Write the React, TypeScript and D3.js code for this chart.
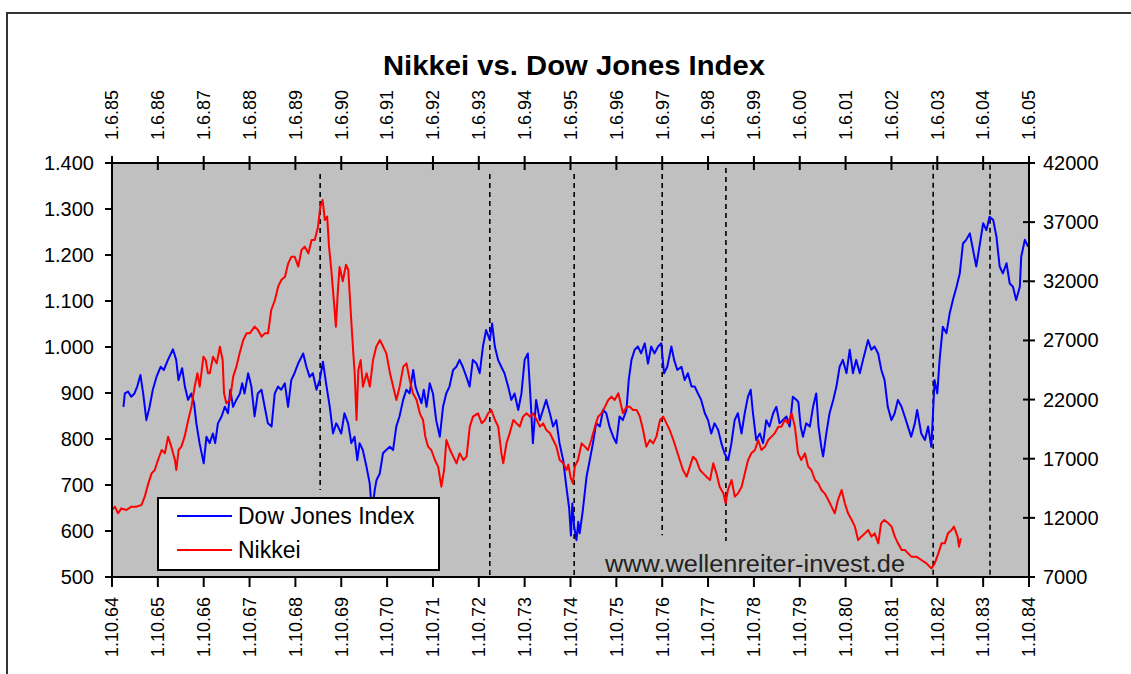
import * as d3 from 'd3';
import React from 'react';

// Dow Jones 1964-1984 (bottom / left axis)
const dow: [number, number][] = [
  [1965.00,870],[1965.03,899],[1965.10,903],[1965.17,892],[1965.24,899],[1965.30,914],[1965.37,939],[1965.43,899],
  [1965.50,841],[1965.57,870],[1965.64,907],[1965.72,935],[1965.81,957],[1965.88,950],[1965.97,972],[1966.08,995],
  [1966.15,972],[1966.20,928],[1966.28,954],[1966.34,914],[1966.41,885],[1966.48,899],[1966.54,878],[1966.59,834],
  [1966.66,791],[1966.75,747],[1966.81,805],[1966.88,791],[1966.95,812],[1967.00,791],[1967.06,834],[1967.14,849],
  [1967.21,870],[1967.28,856],[1967.33,907],[1967.39,870],[1967.46,885],[1967.54,899],[1967.59,921],[1967.64,899],
  [1967.72,943],[1967.79,914],[1967.86,849],[1967.93,899],[1968.01,907],[1968.08,870],[1968.15,834],[1968.23,827],
  [1968.30,899],[1968.37,914],[1968.44,907],[1968.52,921],[1968.59,870],[1968.66,928],[1968.73,943],[1968.81,964],
  [1968.92,986],[1968.99,957],[1969.06,935],[1969.13,943],[1969.21,907],[1969.28,928],[1969.35,968],[1969.43,914],
  [1969.50,870],[1969.57,812],[1969.64,834],[1969.68,827],[1969.75,812],[1969.82,856],[1969.90,834],[1969.97,791],
  [1970.04,805],[1970.10,754],[1970.15,791],[1970.22,776],[1970.30,740],[1970.37,704],[1970.42,640],[1970.48,689],
  [1970.52,711],[1970.59,725],[1970.66,769],[1970.73,776],[1970.81,783],[1970.88,776],[1970.95,827],[1971.02,849],
  [1971.10,885],[1971.17,907],[1971.24,899],[1971.32,950],[1971.37,914],[1971.42,899],[1971.50,878],[1971.55,907],
  [1971.61,870],[1971.68,921],[1971.75,899],[1971.82,841],[1971.90,805],[1971.97,870],[1972.04,899],[1972.11,914],
  [1972.19,950],[1972.26,957],[1972.33,972],[1972.40,957],[1972.48,935],[1972.55,914],[1972.62,972],[1972.70,964],
  [1972.77,943],[1972.84,1001],[1972.91,1037],[1972.99,1015],[1973.04,1051],[1973.10,1001],[1973.17,972],[1973.24,957],
  [1973.31,943],[1973.39,914],[1973.46,885],[1973.53,899],[1973.61,863],[1973.68,899],[1973.75,972],[1973.82,986],
  [1973.88,885],[1973.93,791],[1974.00,885],[1974.08,841],[1974.15,863],[1974.22,885],[1974.30,856],[1974.37,827],
  [1974.44,841],[1974.51,791],[1974.59,754],[1974.66,696],[1974.72,650],[1974.76,590],[1974.79,660],[1974.83,610],
  [1974.88,580],[1974.92,620],[1974.95,595],[1975.02,646],[1975.10,718],[1975.17,754],[1975.24,791],[1975.31,834],
  [1975.39,827],[1975.46,863],[1975.53,856],[1975.60,827],[1975.68,805],[1975.75,791],[1975.82,849],[1975.89,841],
  [1975.97,863],[1976.02,928],[1976.08,972],[1976.15,994],[1976.22,1001],[1976.29,986],[1976.37,1008],[1976.44,964],
  [1976.51,1001],[1976.58,986],[1976.66,1001],[1976.73,1008],[1976.79,943],[1976.86,957],[1976.95,1001],[1977.01,972],
  [1977.08,950],[1977.17,957],[1977.24,928],[1977.31,943],[1977.39,914],[1977.46,914],[1977.53,899],[1977.60,885],
  [1977.68,856],[1977.75,841],[1977.82,812],[1977.89,834],[1977.97,820],[1978.04,791],[1978.11,769],[1978.19,754],
  [1978.26,791],[1978.33,841],[1978.40,856],[1978.48,812],[1978.55,856],[1978.62,892],[1978.68,907],[1978.73,856],
  [1978.80,798],[1978.88,812],[1978.95,791],[1979.02,841],[1979.09,827],[1979.17,856],[1979.24,870],[1979.31,834],
  [1979.38,841],[1979.46,849],[1979.53,827],[1979.60,892],[1979.68,885],[1979.72,880],[1979.77,827],[1979.82,805],
  [1979.89,834],[1979.97,827],[1980.04,870],[1980.11,899],[1980.16,827],[1980.22,783],[1980.26,762],[1980.33,812],
  [1980.40,856],[1980.48,885],[1980.55,914],[1980.62,957],[1980.69,972],[1980.77,943],[1980.84,994],[1980.91,943],
  [1980.98,972],[1981.06,943],[1981.13,972],[1981.24,1015],[1981.31,994],[1981.38,1001],[1981.46,986],[1981.53,950],
  [1981.60,928],[1981.67,870],[1981.75,841],[1981.82,856],[1981.89,885],[1981.97,870],[1982.04,849],[1982.11,827],
  [1982.18,805],[1982.26,834],[1982.31,863],[1982.40,812],[1982.48,798],[1982.55,827],[1982.62,783],[1982.66,863],
  [1982.69,928],[1982.75,899],[1982.80,972],[1982.87,1044],[1982.95,1030],[1983.02,1073],[1983.09,1102],[1983.17,1131],
  [1983.24,1160],[1983.31,1225],[1983.38,1233],[1983.46,1247],[1983.53,1211],[1983.60,1175],[1983.68,1225],[1983.75,1269],
  [1983.82,1254],[1983.89,1283],[1983.97,1276],[1984.04,1240],[1984.11,1175],[1984.18,1160],[1984.26,1182],[1984.33,1138],
  [1984.40,1131],[1984.47,1102],[1984.55,1131],[1984.58,1196],[1984.66,1233],[1984.73,1218],
];

// Nikkei 1985-2003 (top / right axis)
const nikkei: [number, number][] = [
  [1985.41,12664],[1985.48,12946],[1985.55,12383],[1985.62,12805],[1985.73,12664],[1985.84,12946],[1985.95,12946],
  [1986.06,13087],[1986.13,13791],[1986.21,14918],[1986.28,15764],[1986.35,16046],[1986.42,16891],[1986.50,17737],
  [1986.57,17455],[1986.64,18864],[1986.71,18018],[1986.79,16891],[1986.82,16046],[1986.87,17737],[1986.93,18018],
  [1987.00,18864],[1987.08,20273],[1987.15,21401],[1987.22,23091],[1987.28,24219],[1987.33,23091],[1987.41,25627],
  [1987.46,25345],[1987.51,24219],[1987.55,24219],[1987.62,25627],[1987.70,25063],[1987.77,26472],[1987.83,25345],
  [1987.86,22527],[1987.91,21683],[1987.99,21964],[1988.06,23937],[1988.13,24782],[1988.20,25909],[1988.28,27036],
  [1988.35,27599],[1988.42,27599],[1988.53,28163],[1988.60,27881],[1988.68,27317],[1988.75,27599],[1988.82,27599],
  [1988.89,29572],[1988.97,30417],[1989.04,31544],[1989.11,32108],[1989.19,32390],[1989.26,33517],[1989.33,34081],
  [1989.40,34081],[1989.48,33235],[1989.55,34644],[1989.62,34926],[1989.70,34362],[1989.77,35490],[1989.84,35490],
  [1989.91,36617],[1989.96,38307],[1990.01,38871],[1990.06,37180],[1990.11,37462],[1990.15,34926],[1990.20,32953],
  [1990.26,30135],[1990.30,28163],[1990.34,31000],[1990.38,33200],[1990.45,32000],[1990.52,33400],[1990.57,32953],
  [1990.63,29008],[1990.68,25909],[1990.71,24219],[1990.75,20273],[1990.79,24501],[1990.84,25345],[1990.89,23091],
  [1990.97,24219],[1991.04,23091],[1991.11,25345],[1991.18,26472],[1991.26,27036],[1991.33,26472],[1991.40,25909],
  [1991.48,24219],[1991.55,23091],[1991.62,21964],[1991.69,23091],[1991.77,24782],[1991.84,25063],[1991.91,23655],
  [1991.98,22527],[1992.06,21964],[1992.13,20836],[1992.20,20273],[1992.25,18864],[1992.31,18018],[1992.38,17737],
  [1992.46,16891],[1992.53,16327],[1992.60,14637],[1992.66,16046],[1992.71,18582],[1992.79,17737],[1992.86,17173],
  [1992.93,16609],[1993.00,17455],[1993.08,16891],[1993.15,17173],[1993.22,19709],[1993.29,20554],[1993.40,20836],
  [1993.48,20000],[1993.55,20273],[1993.62,20836],[1993.69,21119],[1993.77,20273],[1993.84,19709],[1993.91,17455],
  [1993.95,16609],[1994.02,18300],[1994.09,19145],[1994.17,20273],[1994.24,19991],[1994.31,19709],[1994.38,20554],
  [1994.46,20836],[1994.53,20554],[1994.60,20836],[1994.68,20273],[1994.75,19709],[1994.82,19991],[1994.89,19427],
  [1994.97,19145],[1995.04,18582],[1995.11,18018],[1995.18,16891],[1995.26,16609],[1995.33,16046],[1995.37,16500],
  [1995.42,15400],[1995.47,14918],[1995.51,16327],[1995.58,16891],[1995.66,18300],[1995.73,18018],[1995.80,17737],
  [1995.87,18582],[1995.95,19709],[1996.02,20554],[1996.09,20836],[1996.17,21401],[1996.24,21964],[1996.31,22245],
  [1996.38,21964],[1996.46,22527],[1996.51,21683],[1996.56,20836],[1996.64,21401],[1996.71,21401],[1996.78,21119],
  [1996.86,21119],[1996.93,20554],[1997.00,19427],[1997.07,18018],[1997.15,18582],[1997.22,18300],[1997.29,18864],
  [1997.37,20273],[1997.44,20554],[1997.51,19991],[1997.58,19427],[1997.66,18582],[1997.73,17737],[1997.80,16891],
  [1997.87,16046],[1997.95,15482],[1998.02,16327],[1998.09,17173],[1998.16,16891],[1998.24,16046],[1998.31,15764],
  [1998.38,15482],[1998.46,15200],[1998.53,16609],[1998.60,15764],[1998.67,14637],[1998.75,14073],[1998.80,13228],
  [1998.85,14355],[1998.93,15200],[1999.00,13791],[1999.07,14073],[1999.15,14637],[1999.22,15764],[1999.29,16891],
  [1999.36,17455],[1999.44,17737],[1999.51,18582],[1999.58,17737],[1999.66,18018],[1999.73,18582],[1999.80,18864],
  [1999.87,19145],[1999.95,19709],[2000.02,19709],[2000.09,20273],[2000.16,19991],[2000.24,20836],[2000.31,19709],
  [2000.38,17455],[2000.45,16891],[2000.53,17455],[2000.60,16327],[2000.67,16046],[2000.75,15200],[2000.82,14918],
  [2000.89,14355],[2000.96,14073],[2001.04,13509],[2001.11,12946],[2001.18,12383],[2001.25,13509],[2001.33,14355],
  [2001.40,13228],[2001.47,12383],[2001.55,11819],[2001.62,11255],[2001.69,10128],[2001.76,10410],[2001.84,10692],
  [2001.91,10974],[2001.98,10410],[2002.05,10692],[2002.13,9846],[2002.19,11537],[2002.26,11819],[2002.35,11537],
  [2002.42,11255],[2002.49,10410],[2002.56,9846],[2002.64,9282],[2002.71,9282],[2002.78,9001],[2002.85,8719],
  [2002.96,8719],[2003.07,8437],[2003.18,8155],[2003.25,7873],[2003.29,7732],[2003.36,8155],[2003.44,9001],
  [2003.51,9846],[2003.58,9846],[2003.65,10692],[2003.73,10974],[2003.78,11255],[2003.86,10410],[2003.89,9564],
  [2003.93,10269],
];

// dashed marker lines (bottom-axis dates, extent in Dow units)
const markerYears = [1969.29, 1972.99, 1974.83, 1976.75, 1978.14, 1982.66, 1983.90];
const markerTop = [1376, 1376, 1376, 1376, 1389, 1396, 1396];
const markerBottom = [689, 504, 500, 591, 578, 504, 500];

const bottomTicks = d3.range(0, 21).map(i => 1964.75 + i);
const bottomLabels = d3.range(0, 21).map(i => `1.10.${64 + i}`);
const topTicks = d3.range(0, 21).map(i => 1985.4167 + i);
const topLabels = d3.range(0, 21).map(i => `1.6.${String((85 + i) % 100).padStart(2, '0')}`);
const leftTicks = d3.range(500, 1401, 100);
const rightTicks = d3.range(7000, 42001, 5000);

const W = 1131, H = 674;
const plot = { left: 112, right: 1029, top: 163, bottom: 577 };
const font = '"Liberation Sans", Arial, sans-serif';

const de = d3.formatLocale({ decimal: ',', thousands: '.', grouping: [3], currency: ['', ' €'] });
const fmtLeft = de.format(',');

export default function App() {
  const xDow = d3.scaleLinear().domain([1964.75, 1984.75]).range([plot.left, plot.right]);
  const xNik = d3.scaleLinear().domain([1985.4167, 2005.4167]).range([plot.left, plot.right]);
  const yDow = d3.scaleLinear().domain([500, 1400]).range([plot.bottom, plot.top]);
  const yNik = d3.scaleLinear().domain([7000, 42000]).range([plot.bottom, plot.top]);

  const dowLine = d3.line<[number, number]>().x(d => xDow(d[0])).y(d => yDow(d[1]));
  const nikLine = d3.line<[number, number]>().x(d => xNik(d[0])).y(d => yNik(d[1]));

  return (
    <svg width={W} height={H} style={{ position: 'absolute', left: 0, top: 0, background: '#fff' }}
      fontFamily={font}>
      <defs>
        <clipPath id="plotclip">
          <rect x={plot.left} y={plot.top} width={plot.right - plot.left} height={plot.bottom - plot.top} />
        </clipPath>
      </defs>
      <path d={`M7,${H} V13 H${W}`} fill="none" stroke="#333" strokeWidth={2} />

      <text x={574} y={75} textAnchor="middle" fontSize={27} fontWeight="bold" textLength={382}
        lengthAdjust="spacingAndGlyphs">Nikkei vs. Dow Jones Index</text>

      <rect x={plot.left} y={plot.top} width={plot.right - plot.left} height={plot.bottom - plot.top} fill="#c0c0c0" />

      <g clipPath="url(#plotclip)">
        {markerYears.map((m, i) => (
          <line key={i} x1={xDow(m)} x2={xDow(m)} y1={yDow(markerTop[i])} y2={yDow(markerBottom[i])}
            stroke="#000" strokeWidth={1.6} strokeDasharray="5,4" />
        ))}
        <path d={dowLine(dow) || ''} fill="none" stroke="#0000ff" strokeWidth={2} strokeLinejoin="round" />
        <path d={nikLine(nikkei) || ''} fill="none" stroke="#ff0000" strokeWidth={2} strokeLinejoin="round" />
      </g>

      <text x={605} y={572} fontSize={23} fill="#222" textLength={300} lengthAdjust="spacingAndGlyphs">
        www.wellenreiter-invest.de</text>

      {/* axes frame */}
      <rect x={plot.left} y={plot.top} width={plot.right - plot.left} height={plot.bottom - plot.top}
        fill="none" stroke="#000" strokeWidth={2} />

      {/* bottom axis */}
      {bottomTicks.map((t, i) => (
        <g key={'b' + i} transform={`translate(${xDow(t)},0)`}>
          <line y1={plot.bottom} y2={plot.bottom + 10} stroke="#000" strokeWidth={2} />
          <text transform={`translate(0,597) rotate(-90)`} textAnchor="end" dy="0.35em" fontSize={18}>
            {bottomLabels[i]}</text>
        </g>
      ))}

      {/* top axis */}
      {topTicks.map((t, i) => (
        <g key={'t' + i} transform={`translate(${xNik(t)},0)`}>
          <line y1={plot.top - 7} y2={plot.top + 7} stroke="#000" strokeWidth={2} />
          <text transform={`translate(0,140) rotate(-90)`} textAnchor="start" dy="0.35em" fontSize={18}>
            {topLabels[i]}</text>
        </g>
      ))}

      {/* left axis */}
      {leftTicks.map(t => (
        <g key={'l' + t} transform={`translate(0,${yDow(t)})`}>
          <line x1={plot.left - 7} x2={plot.left} stroke="#000" strokeWidth={2} />
          <text x={94} textAnchor="end" dy="0.35em" fontSize={20}>{fmtLeft(t)}</text>
        </g>
      ))}

      {/* right axis */}
      {rightTicks.map(t => (
        <g key={'r' + t} transform={`translate(0,${yNik(t)})`}>
          <line x1={plot.right - 6} x2={plot.right + 6} stroke="#000" strokeWidth={2} />
          <text x={1043} textAnchor="start" dy="0.35em" fontSize={20}>{t}</text>
        </g>
      ))}

      {/* legend */}
      <g>
        <rect x={158} y={498} width={281} height={72} fill="#fff" stroke="#000" strokeWidth={2} />
        <line x1={177} x2={232} y1={516} y2={516} stroke="#0000ff" strokeWidth={2} />
        <text x={238} y={516} dy="0.35em" fontSize={23}>Dow Jones Index</text>
        <line x1={177} x2={232} y1={550} y2={550} stroke="#ff0000" strokeWidth={2} />
        <text x={238} y={550} dy="0.35em" fontSize={23}>Nikkei</text>
      </g>
    </svg>
  );
}
